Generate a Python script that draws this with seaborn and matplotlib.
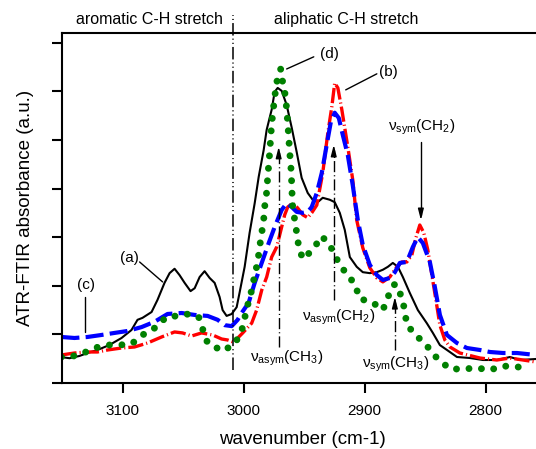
import matplotlib
matplotlib.use("Agg")
import matplotlib.pyplot as plt
import numpy as np
import pandas as pd
import seaborn as sns

# ---------------- data ----------------
wn_a = [3151.3, 3143.8, 3135.6, 3128.9, 3120.7, 3110.8, 3100.8, 3092.6, 3087.6, 3083.5,
        3076.0, 3071.1, 3065.3, 3061.1, 3057.0, 3052.9, 3048.7, 3043.8, 3040.4, 3036.3,
        3032.2, 3028.0, 3023.9, 3019.8, 3017.3, 3014.0, 3009.8, 3005.7, 3003.2, 2999.1,
        2995.0, 2990.8, 2987.5, 2983.4, 2980.9, 2976.8, 2974.3, 2971.8, 2968.5, 2964.4,
        2960.2, 2956.1, 2952.0, 2947.0, 2942.9, 2938.7, 2934.6, 2928.8, 2924.7, 2920.5,
        2916.4, 2912.2, 2906.5, 2901.5, 2895.7, 2889.9, 2884.9, 2880.8, 2876.7, 2872.5,
        2868.4, 2862.6, 2856.0, 2848.6, 2843.6, 2837.8, 2832.0, 2823.7, 2813.0, 2802.2,
        2790.7, 2779.9, 2771.6, 2758.4]
abs_a = [0.535, 0.51, 0.556, 0.617, 0.679, 0.782, 0.926, 1.09, 1.30, 1.34,
         1.46, 1.71, 2.06, 2.26, 2.35, 2.22, 2.06, 1.89, 1.95, 2.18,
         2.30, 2.16, 2.06, 1.77, 1.50, 1.38, 1.42, 1.56, 1.87, 2.39,
         3.09, 3.70, 4.24, 4.79, 5.21, 5.62, 5.99, 6.07, 6.01, 5.72,
         5.25, 4.75, 4.22, 3.91, 3.77, 3.72, 3.81, 3.77, 3.72, 3.50,
         3.15, 2.59, 2.39, 2.28, 2.26, 2.28, 2.33, 2.39, 2.47, 2.39,
         2.18, 1.85, 1.50, 1.23, 1.03, 0.78, 0.68, 0.535, 0.514, 0.473,
         0.473, 0.535, 0.473, 0.494]

wn_b = [3150.5, 3139.7, 3128.9, 3120.7, 3112.4, 3100.8, 3090.1, 3079.3, 3067.7, 3057.0,
        3050.4, 3042.9, 3034.7, 3025.6, 3018.1, 3013.2, 3008.2, 3000.7, 2993.3, 2989.2,
        2985.0, 2980.9, 2976.8, 2972.6, 2968.5, 2966.0, 2963.5, 2959.4, 2955.3, 2951.1,
        2947.0, 2943.7, 2939.5, 2934.6, 2930.4, 2927.1, 2924.7, 2922.1, 2918.8, 2913.9,
        2909.8, 2906.5, 2901.5, 2895.7, 2889.9, 2884.9, 2879.2, 2873.4, 2869.2, 2865.1,
        2861.0, 2857.7, 2854.4, 2851.1, 2847.8, 2844.4, 2841.1, 2837.8, 2833.7, 2829.5,
        2821.3, 2804.7, 2790.7, 2779.9, 2769.2, 2758.4]
abs_b = [0.576, 0.617, 0.638, 0.638, 0.679, 0.720, 0.741, 0.823, 0.947, 1.05,
         1.03, 0.967, 1.03, 0.988, 0.905, 0.885, 0.84, 1.03, 1.23, 1.50,
         1.91, 2.18, 2.59, 2.80, 3.21, 3.46, 3.62, 3.70, 3.60, 3.46,
         3.40, 3.50, 3.66, 4.32, 5.14, 5.68, 6.17, 6.07, 5.62, 4.86,
         4.18, 3.35, 2.78, 2.37, 2.16, 2.08, 2.18, 2.39, 2.49, 2.49,
         2.63, 2.98, 3.25, 3.09, 2.74, 2.22, 1.71, 1.19, 0.885, 0.741,
         0.617, 0.514, 0.473, 0.514, 0.473, 0.432]

wn_c = [3150.5, 3139.7, 3128.9, 3117.4, 3106.6, 3095.9, 3084.3, 3073.5, 3062.8, 3051.2,
        3040.4, 3029.7, 3021.4, 3015.6, 3009.8, 3004.9, 3001.6, 2995.8, 2990.8, 2985.0,
        2979.2, 2974.3, 2968.5, 2964.4, 2960.2, 2956.1, 2951.1, 2947.0, 2943.7, 2939.5,
        2935.4, 2931.3, 2927.9, 2924.7, 2921.3, 2918.0, 2913.9, 2909.8, 2905.6, 2901.5,
        2895.7, 2889.9, 2884.9, 2879.2, 2875.0, 2870.9, 2865.1, 2860.1, 2856.0, 2851.9,
        2846.1, 2842.0, 2837.8, 2832.0, 2823.7, 2815.5, 2804.7, 2796.5, 2785.7, 2774.1,
        2758.4]
abs_c = [0.947, 0.926, 0.947, 0.988, 1.03, 1.07, 1.15, 1.26, 1.42, 1.44,
         1.40, 1.38, 1.30, 1.19, 1.17, 1.30, 1.44, 1.65, 2.06, 2.47,
         2.88, 3.21, 3.56, 3.70, 3.62, 3.52, 3.50, 3.52, 3.62, 3.91,
         4.32, 4.90, 5.37, 5.56, 5.45, 5.10, 4.69, 4.07, 3.35, 2.84,
         2.43, 2.22, 2.12, 2.16, 2.28, 2.47, 2.49, 2.80, 3.00, 2.88,
         2.49, 1.98, 1.40, 0.988, 0.823, 0.720, 0.679, 0.638, 0.617, 0.617,
         0.576]

wn_d = [3150.5, 3143.8, 3133.9, 3123.2, 3112.4, 3102.5, 3092.6, 3083.5, 3073.5, 3063.6,
        3054.5, 3045.4, 3037.1, 3033.8, 3029.7, 3017.3, 3007.4, 3001.6, 2996.6, 2993.3,
        2990.8, 2988.3, 2986.7, 2985.0, 2983.4, 2982.6, 2980.9, 2980.1, 2979.2, 2978.4,
        2977.6, 2976.8, 2974.3, 2972.6, 2969.3, 2967.7, 2965.2, 2964.4, 2963.5, 2962.7,
        2961.9, 2961.0, 2960.4, 2960.0, 2959.4, 2957.7, 2956.1, 2954.4, 2951.1, 2942.9,
        2935.4, 2928.8, 2923.0, 2915.6, 2908.1, 2904.0, 2894.1, 2884.9, 2880.8, 2875.0,
        2869.2, 2866.8, 2865.1, 2856.0, 2847.8, 2840.3, 2829.5, 2818.8, 2807.2, 2796.5,
        2785.7, 2774.1, 2763.4]
abs_d = [0.535, 0.535, 0.597, 0.720, 0.782, 0.782, 0.802, 0.988, 1.13, 1.36,
         1.38, 1.42, 1.36, 1.11, 0.823, 0.658, 0.802, 1.07, 1.60, 1.91,
         2.22, 2.49, 2.80, 3.09, 3.35, 3.62, 3.93, 4.22, 4.49, 4.75,
         5.04, 5.33, 5.88, 6.19, 6.46, 6.19, 5.88, 5.62, 5.35, 5.06,
         4.75, 4.49, 4.22, 3.93, 3.62, 3.35, 3.09, 2.80, 2.55, 2.74,
         3.02, 2.84, 2.55, 2.26, 2.04, 1.73, 1.67, 1.50, 1.77, 2.04,
         1.77, 1.48, 1.19, 0.947, 0.741, 0.514, 0.288, 0.288, 0.309, 0.267,
         0.350, 0.329, 0.329]

xtick_vals = [3100, 3000, 2900, 2800]
ytick_vals = [0, 1, 2, 3, 4, 5, 6, 7]
region_split = 3009
region_labels = ["aromatic C-H stretch", "aliphatic C-H stretch"]
sample_labels = ["(a)", "(b)", "(c)", "(d)"]

# ---------------- style ----------------
sns.set_theme(style="white")
plt.rcParams["font.family"] = ["Liberation Sans", "DejaVu Sans"]
plt.rcParams["mathtext.fontset"] = "custom"
plt.rcParams["mathtext.rm"] = "Liberation Sans"
plt.rcParams["mathtext.it"] = "Liberation Sans:italic"
plt.rcParams["lines.scale_dashes"] = False
plt.rcParams["text.color"] = "black"

fig = plt.figure(figsize=(5.36, 4.49), dpi=100)
ax = fig.add_axes([62 / 536, 1 - 383 / 449, (536 - 62) / 536, 350 / 449])

sns.lineplot(x=wn_a, y=abs_a, ax=ax, color="black", lw=1.5, sort=False, estimator=None)
sns.lineplot(x=wn_b, y=abs_b, ax=ax, color="#ff0000", lw=2.4, sort=False, estimator=None,
             linestyle=(0, (11, 2.2, 0.8, 2.2)))
sns.lineplot(x=wn_c, y=abs_c, ax=ax, color="#0000ff", lw=3.0, sort=False, estimator=None,
             linestyle=(0, (13, 4.5)))
sns.lineplot(x=wn_d, y=abs_d, ax=ax, color="#008000", lw=5.0, sort=False, estimator=None,
             linestyle=(0, (0.01, 9.0)), dash_capstyle="round")

ax.set_xlim(3150, 2758.4)
ax.set_ylim(0, 7.2)
ax.set_xticks(xtick_vals)
ax.set_xticklabels([str(v) for v in xtick_vals])
ax.set_yticks(ytick_vals)
ax.tick_params(axis="both", which="major", direction="out", length=7, width=1.5,
               color="black", labelsize=11, pad=8, bottom=True, left=True,
               labelcolor="black")
ax.tick_params(axis="y", labelleft=False)
for side in ["left", "bottom", "top"]:
    ax.spines[side].set_visible(True)
    ax.spines[side].set_color("black")
    ax.spines[side].set_linewidth(1.5)
ax.spines["right"].set_visible(False)

ax.set_xlabel("wavenumber (cm-1)", fontsize=13.5, color="black")
ax.set_ylabel("ATR-FTIR absorbance (a.u.)", fontsize=13.5, color="black")
ax.xaxis.label.set_va("center")
ax.yaxis.label.set_va("center")
ax.xaxis.set_label_coords(0.508, -0.162)
ax.yaxis.set_label_coords(-0.078, 0.5)

# region divider and headers
ax.plot([region_split, region_split], [0.27, 7.57], color="black", lw=1.1,
        linestyle=(0, (9, 2.2, 0.8, 2.2, 0.8, 2.2)), clip_on=False)
ax.text(3077.7, 7.47, region_labels[0], ha="center", va="center", fontsize=11.5)
ax.text(2915.6, 7.47, region_labels[1], ha="center", va="center", fontsize=11.5)

# sample labels with leader lines
fs = 11
ax.text(3094, 2.57, sample_labels[0], ha="center", va="center", fontsize=fs)
ax.plot([3085.9, 3066.9], [2.49, 2.08], color="black", lw=1)
ax.text(2880, 6.40, sample_labels[1], ha="center", va="center", fontsize=fs)
ax.plot([2889.9, 2915.6], [6.36, 6.03], color="black", lw=1)
ax.text(3129.8, 2.02, sample_labels[2], ha="center", va="center", fontsize=fs)
ax.plot([3131.4, 3131.4], [1.77, 1.05], color="black", lw=1)
ax.text(2928.8, 6.77, sample_labels[3], ha="center", va="center", fontsize=fs)
ax.plot([2942, 2964.4], [6.71, 6.46], color="black", lw=1)

# vibration-mode arrows
head = dict(arrowstyle="-|>,head_length=0.55,head_width=0.14", color="black",
            lw=1, shrinkA=0, shrinkB=0)
dashdot = (0, (8, 2.2, 0.8, 2.2))

def mode_arrow(x, y0, y1, style):
    ax.plot([x, x], [y0, y1 - 0.1 if y1 > y0 else y1 + 0.1], color="black", lw=1,
            linestyle=style)
    d = 0.2 if y1 > y0 else -0.2
    ax.annotate("", xy=(x, y1), xytext=(x, y1 - d), arrowprops=head)

mode_arrow(2971.0, 0.74, 4.86, dashdot)
ax.text(2964.0, 0.51, r"ν$_{\rm asym}$(CH$_3$)", ha="center", va="center", fontsize=fs)
mode_arrow(2925.5, 1.71, 4.90, dashdot)
ax.text(2921.4, 1.36, r"ν$_{\rm asym}$(CH$_2$)", ha="center", va="center", fontsize=fs)
mode_arrow(2875.0, 0.68, 1.77, dashdot)
ax.text(2874.2, 0.39, r"ν$_{\rm sym}$(CH$_3$)", ha="center", va="center", fontsize=fs)
mode_arrow(2853.5, 4.96, 3.35, "-")
ax.text(2852.7, 5.25, r"ν$_{\rm sym}$(CH$_2$)", ha="center", va="center", fontsize=fs)

fig.savefig("out.png", dpi=100)
